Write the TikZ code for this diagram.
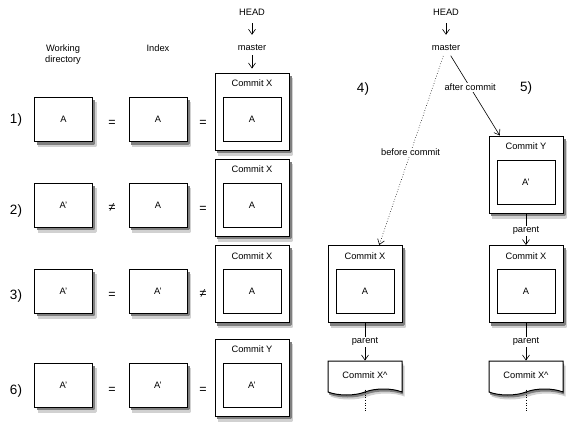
\documentclass[tikz,border=0pt]{standalone}
\usepackage{fontspec}
\setmainfont{Liberation Sans}
\usepackage{tikz}
\usetikzlibrary{calc}
\usetikzlibrary{arrows.meta,backgrounds,shapes.symbols}
\usetikzlibrary{positioning}

% commit box: name, x, y, title, content
\newcommand{\commitbox}[5]{
  \node[outerbox] (#1) at (#2,#3) {};
  \node[innerbox] (#1-in) at ($(#1.center)+(0,7.5)$) {#5};
  \node[lbl] (#1-t) at ($(#1.north)+(0,11)$) {#4};
}

\begin{document}
\begin{tikzpicture}[x=1pt,y=-1pt,
    lbl/.style={font=\fontsize{9.3}{11}\selectfont,inner sep=1pt,align=center},
    num/.style={font=\fontsize{13.5}{15}\selectfont},
    rel/.style={font=\fontsize{12.5}{13}\selectfont},
    filebox/.style={draw,line width=1pt,fill=white,minimum width=58pt,minimum height=44pt,inner sep=0pt,
      font=\fontsize{9.3}{11}\selectfont},
    innerbox/.style={filebox},
    outerbox/.style={draw,line width=1pt,fill=white,minimum width=74pt,minimum height=77pt,inner sep=0pt},
    tapeform/.style={tape,tape bend top=none,tape bend height=6pt,line width=1pt,
      minimum width=74pt,minimum height=34pt,inner sep=0pt},
    parentbox/.style={tapeform,draw,fill=white,font=\fontsize{9.3}{11}\selectfont},
    shadeline/.style={line width=2.5pt,line join=round},
    arr/.style={-{Straight Barb[length=5pt,width=7pt]},line width=0.6pt}]
  \useasboundingbox (0,0) rectangle (574,432);

  % left part: heads of columns
  \node[lbl] (wd) at (63,55) {Working\\directory};
  \node[lbl] (idx) at (158,48) {Index};
  \node[lbl] (head) at (252,12) {HEAD};
  \node[lbl] (master) at (252,48) {master};

  % row 1
  \node[num] (n1) at (16,120) {1)};
  \node[filebox] (wd1) at (63.5,119.5) {A};
  \node[rel] (r1a) at (112,123) {=};
  \node[filebox] (ix1) at (158,119.5) {A};
  \node[rel] (r1b) at (203,123) {=};
  \commitbox{c1}{252}{111.5}{Commit X}{A}

  % row 2
  \node[num] (n2) at (16,211) {2)};
  \node[filebox] (wd2) at (63.5,205) {A'};
  \node[rel] (r2a) at (112,208) {≠};
  \node[filebox] (ix2) at (158,205) {A};
  \node[rel] (r2b) at (203,209) {=};
  \commitbox{c2}{252}{197.5}{Commit X}{A}

  % row 3
  \node[num] (n3) at (16,296) {3)};
  \node[filebox] (wd3) at (63.5,291) {A'};
  \node[rel] (r3a) at (112,295) {=};
  \node[filebox] (ix3) at (158,291) {A'};
  \node[rel] (r3b) at (203,294) {≠};
  \commitbox{c3}{252}{284}{Commit X}{A}

  % row 6
  \node[num] (n6) at (16,391) {6)};
  \node[filebox] (wd6) at (63.5,385) {A'};
  \node[rel] (r6a) at (112,390) {=};
  \node[filebox] (ix6) at (158,385) {A'};
  \node[rel] (r6b) at (203,390) {=};
  \commitbox{c6}{252}{377.5}{Commit Y}{A'}

  \draw[arr,shorten <=7pt,shorten >=9pt] (head) -- (master);
  \draw[arr,shorten <=3pt,shorten >=4pt] (master) -- (c1.north);

  % right part: before / after commit
  \node[lbl] (head2) at (446,12) {HEAD};
  \node[lbl] (master2) at (446,48) {master};
  \node[num] (n4) at (363,89) {4)};
  \node[num] (n5) at (526,88) {5)};

  \commitbox{y5}{526}{174.5}{Commit Y}{A'}
  \commitbox{x5}{526}{284}{Commit X}{A}
  \commitbox{x4}{365}{284}{Commit X}{A}
  \node[parentbox] (p4) at (365,375) {Commit X\textasciicircum};
  \node[parentbox] (p5) at (526,375) {Commit X\textasciicircum};
  \coordinate (e4) at (365,412);
  \coordinate (e5) at (526,412);

  \draw[arr,shorten <=7pt,shorten >=9pt] (head2) -- (master2);
  \draw[arr,dotted,shorten <=4pt] (master2) -- node[lbl,fill=white,pos=0.52]{before commit}
    ($(x4.north west)!0.69!(x4.north east)$);
  \draw[arr,shorten <=4pt] (master2) -- node[lbl,fill=white,pos=0.42]{after commit}
    ($(y5.north west)!0.15!(y5.north east)$);

  \draw[arr] (y5.south) -- node[lbl,fill=white,pos=0.55]{parent} (x5.north);
  \draw[arr] (x5.south) -- node[lbl,fill=white]{parent} (p5.north);
  \draw[arr] (x4.south) -- node[lbl,fill=white]{parent} (p4.north);
  \draw[dotted,line width=0.6pt] (p4.south) -- (e4);
  \draw[dotted,line width=0.6pt] (p5.south) -- (e5);

  % shadows
  \begin{pgfonlayer}{background}
    \foreach \n in {wd1,ix1,c1,wd2,ix2,c2,wd3,ix3,c3,wd6,ix6,c6,y5,x5,x4} {
      \draw[shadeline,black!18] ($(\n.south west)+(3.5,3.8)$) -- ($(\n.south east)+(2.5,3.8)$)
        -- ($(\n.north east)+(2.5,5)$);
      \draw[shadeline,black!50] ($(\n.south west)+(2.5,1.5)$) -- ($(\n.south east)+(1,1.5)$)
        -- ($(\n.north east)+(1,3)$);
    }
    \foreach \n in {p4,p5} {
      \node[tapeform,fill=black!18] at ($(\n)+(2.5,4.5)$) {};
      \node[tapeform,fill=black!50] at ($(\n)+(1.2,2.5)$) {};
    }
  \end{pgfonlayer}
\end{tikzpicture}
\end{document}
